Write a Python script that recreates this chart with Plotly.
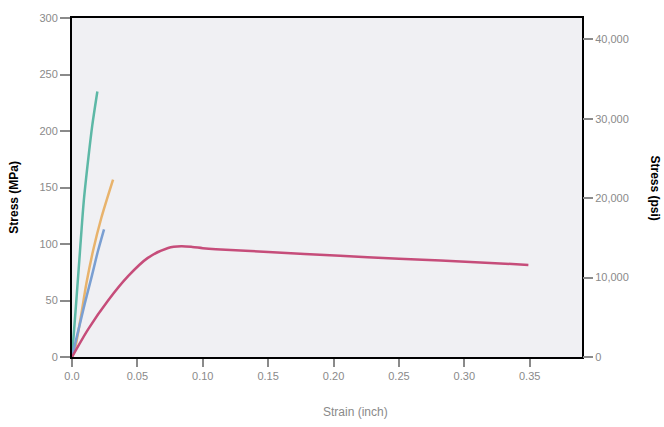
import plotly.graph_objects as go

# Data (strain, stress MPa)
teal_x = [0, 0.003, 0.006, 0.009, 0.0125, 0.0155, 0.0194]
teal_y = [0, 45, 92, 138, 176, 205, 235]
orange_x = [0, 0.002, 0.0067, 0.011, 0.0161, 0.0224, 0.0314]
orange_y = [0, 6, 35, 65, 94, 123, 157]
blue_x = [0, 0.0097, 0.0148, 0.0199, 0.0245]
blue_y = [0, 47, 70, 94, 113]
pink_x = [0, 0.0123, 0.0276, 0.0429, 0.058, 0.0735, 0.0835, 0.092, 0.100, 0.110, 0.15, 0.205, 0.25, 0.282, 0.349]
pink_y = [0, 24.5, 50, 71.5, 87.7, 96.5, 98, 97.4, 96.3, 95.4, 93, 89.5, 87, 85.5, 81.5]

x_ticks = [0, 0.05, 0.10, 0.15, 0.20, 0.25, 0.30, 0.35]
x_ticklabels = ["0.0", "0.05", "0.10", "0.15", "0.20", "0.25", "0.30", "0.35"]
mpa_ticks = [0, 50, 100, 150, 200, 250, 300]
psi_ticks = [0, 10000, 20000, 30000, 40000]
psi_ticklabels = ["0", "10,000", "20,000", "30,000", "40,000"]

fig = go.Figure()
for xs, ys, c in [(teal_x, teal_y, "#5db8a6"), (orange_x, orange_y, "#e8b36c"),
                  (blue_x, blue_y, "#7a9fd2"), (pink_x, pink_y, "#c64d7a")]:
    fig.add_trace(go.Scatter(x=xs, y=ys, mode="lines",
                             line=dict(color=c, width=2.5, shape="spline", smoothing=0.8),
                             showlegend=False, hoverinfo="skip"))
fig.add_trace(go.Scatter(x=[0, 0], y=[0, 40000], yaxis="y2", mode="markers",
                         marker=dict(opacity=0), showlegend=False, hoverinfo="skip"))

tick_font = dict(family="Liberation Sans, Arial", size=11, color="#8a8a8a")
fig.update_layout(
    width=664, height=427,
    margin=dict(l=72, r=82, t=13, b=70),
    paper_bgcolor="white", plot_bgcolor="#f0f0f3",
    xaxis=dict(range=[0, 0.39], tickvals=x_ticks, ticktext=x_ticklabels, showgrid=False, zeroline=False,
               showline=True, linecolor="black", linewidth=2, mirror=True,
               ticks="outside", ticklen=8, tickcolor="#8a8a8a", tickwidth=1.5, tickfont=tick_font),
    yaxis=dict(range=[0, 300], tickvals=mpa_ticks, showgrid=False, zeroline=False,
               showline=True, linecolor="black", linewidth=2, mirror=True,
               ticks="outside", ticklen=10, tickcolor="#8a8a8a", tickwidth=1.5, tickfont=tick_font),
    yaxis2=dict(range=[0, 42700], overlaying="y", side="right", tickvals=psi_ticks, ticktext=psi_ticklabels,
                showgrid=False, zeroline=False, showline=False,
                ticks="outside", ticklen=10, tickcolor="#8a8a8a", tickwidth=1.5, tickfont=tick_font),
    annotations=[
        dict(text="Strain (inch)", xref="paper", yref="paper", x=0.555, y=-0.135, showarrow=False,
             xanchor="center", yanchor="top", font=dict(family="Liberation Sans, Arial", size=12, color="#8a8a8a")),
        dict(text="<b>Stress (MPa)</b>", xref="paper", yref="paper", x=0, xshift=-58, y=0.47, showarrow=False,
             textangle=-90, xanchor="center", yanchor="middle",
             font=dict(family="Liberation Sans, Arial", size=12, color="black")),
        dict(text="<b>Stress (psi)</b>", xref="paper", yref="paper", x=1, xshift=73, y=0.5, showarrow=False,
             textangle=90, xanchor="center", yanchor="middle",
             font=dict(family="Liberation Sans, Arial", size=12, color="black")),
    ],
)
fig.write_html("out.html")
